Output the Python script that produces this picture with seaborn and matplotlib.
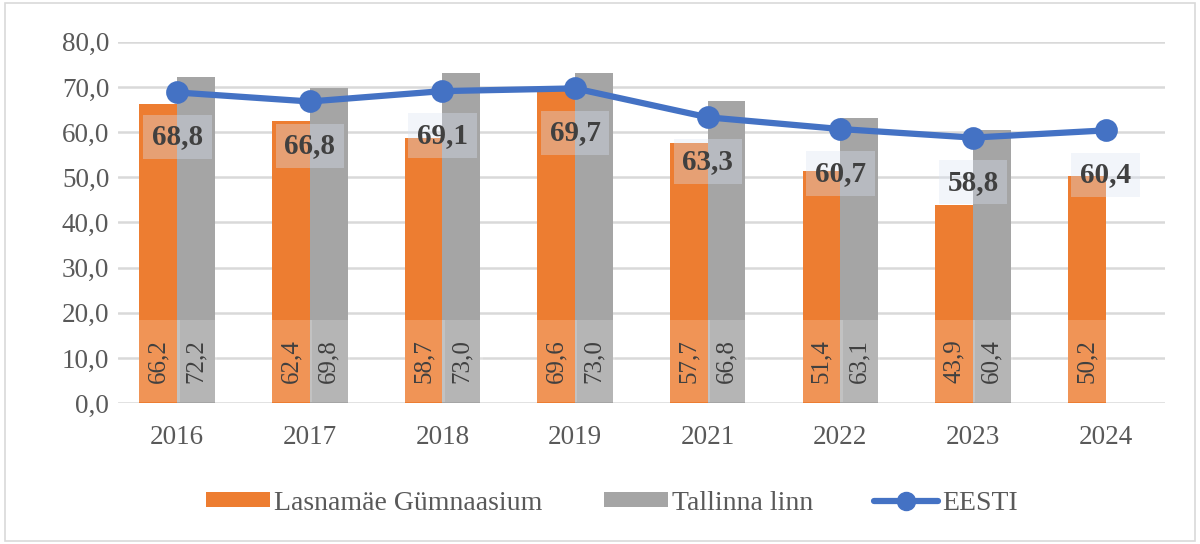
import numpy as np
import pandas as pd
import matplotlib
matplotlib.use("Agg")
import matplotlib.pyplot as plt
import seaborn as sns
from matplotlib.patches import Patch, Rectangle
from matplotlib.lines import Line2D

# Data
years = ["2016", "2017", "2018", "2019", "2021", "2022", "2023", "2024"]
lasnamae = [66.2, 62.4, 58.7, 69.6, 57.7, 51.4, 43.9, 50.2]
tallinn = [72.2, 69.8, 73.0, 73.0, 66.8, 63.1, 60.4, np.nan]
eesti = [68.8, 66.8, 69.1, 69.7, 63.3, 60.7, 58.8, 60.4]
series_names = ["Lasnamäe Gümnaasium", "Tallinna linn", "EESTI"]

ORANGE = "#ED7D31"
GRAY = "#A5A5A5"
BLUE = "#4472C4"
TEXT = "#595959"

def fmt(v):
    return f"{v:.1f}".replace(".", ",")

sns.set_style("white")
plt.rcParams["font.family"] = ["Liberation Serif", "DejaVu Serif"]

df = pd.DataFrame({
    "year": years * 2,
    "value": lasnamae + tallinn,
    "series": [series_names[0]] * len(years) + [series_names[1]] * len(years),
})

fig = plt.figure(figsize=(12, 5.44), dpi=100)
ax = fig.add_axes([0.098, 0.259, 0.873, 0.664])

sns.barplot(data=df, x="year", y="value", hue="series", order=years,
            palette=[ORANGE, GRAY], width=0.57, gap=0, saturation=1,
            linewidth=0, ax=ax, legend=False, zorder=2)

sns.pointplot(x=years, y=eesti, order=years, color=BLUE, markers="o",
              linewidth=4.5, markersize=13, ax=ax, zorder=4)

# vertical value labels at the bottom of each bar, on a pale box
for container in ax.containers:
    if not hasattr(container, "patches"):
        continue
    for bar in container.patches:
        h = bar.get_height()
        if np.isnan(h) or h == 0:
            continue
        ax.add_patch(Rectangle((bar.get_x(), 0.3), bar.get_width() * 1.06, 18.1,
                               facecolor="white", alpha=0.18, edgecolor="none",
                               zorder=3))
        ax.text(bar.get_x() + bar.get_width() / 2, 9.3, fmt(h),
                rotation=90, ha="center", va="center", fontsize=18,
                color="#404040", zorder=5)

# EESTI labels below each marker
for i, v in enumerate(eesti):
    ax.annotate(fmt(v), (i, v), xytext=(0, -32), textcoords="offset points",
                ha="center", va="center", fontsize=21, fontweight="bold",
                color="#404040", zorder=6,
                bbox=dict(facecolor="#DAE3F3", alpha=0.35, edgecolor="none",
                          boxstyle="square,pad=0.3"))

ax.set_ylim(0, 80)
ax.set_xlim(-0.45, len(years) - 0.55)
ax.set_yticks(np.arange(0, 81, 10))
ax.set_yticklabels([fmt(t) for t in np.arange(0, 81, 10)])
ax.yaxis.grid(True, color="#D9D9D9", linewidth=1.8, zorder=0)
ax.set_axisbelow(True)
ax.set_xlabel("")
ax.set_ylabel("")
for s in ax.spines.values():
    s.set_visible(False)
ax.tick_params(axis="both", length=0, labelsize=19.5, colors=TEXT)
ax.tick_params(axis="x", pad=16)
ax.tick_params(axis="y", pad=6)

handles = [
    Patch(facecolor=ORANGE, edgecolor="none"),
    Patch(facecolor=GRAY, edgecolor="none"),
    Line2D([0], [0], color=BLUE, linewidth=4.5, marker="o", markersize=13),
]
fig.legend(handles, series_names, loc="center", bbox_to_anchor=(0.51, 0.075),
           ncol=3, frameon=False, fontsize=20, labelcolor=TEXT,
           handlelength=2.3, handleheight=0.45, handletextpad=0.15,
           columnspacing=2.2)

fig.patches.append(Rectangle((0.004, 0.006), 0.992, 0.988, transform=fig.transFigure,
                             fill=False, edgecolor="#D9D9D9", linewidth=1.2))

fig.savefig("out.png", dpi=100)
